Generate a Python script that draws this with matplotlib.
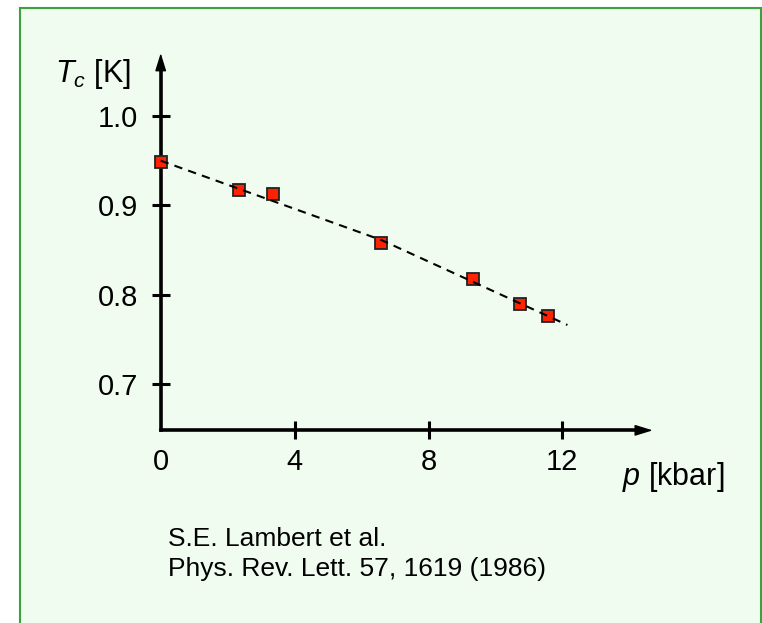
import matplotlib
matplotlib.use("Agg")
import matplotlib.pyplot as plt
from matplotlib.patches import Rectangle

plt.rcParams['font.family'] = ['Liberation Sans', 'DejaVu Sans']
plt.rcParams['mathtext.fontset'] = 'custom'
plt.rcParams['mathtext.rm'] = 'Liberation Sans'
plt.rcParams['mathtext.it'] = 'Liberation Sans:italic'

# Tc vs pressure, S.E. Lambert et al., PRL 57, 1619 (1986)
pressure = [0.0, 2.35, 3.36, 6.59, 9.33, 10.73, 11.56]
tc = [0.9485, 0.917, 0.913, 0.858, 0.818, 0.790, 0.776]

# dashed guide line through the points
fit_p = [0.0, 6.6, 12.15]
fit_tc = [0.950, 0.861, 0.766]

x_ticks = [0, 4, 8, 12]
x_tick_labels = ['0', '4', '8', '12']
y_ticks = [0.7, 0.8, 0.9, 1.0]
y_tick_labels = ['0.7', '0.8', '0.9', '1.0']

X_BASE = 0.648    # where the p axis crosses
X_END = 14.7      # arrow tip of p axis
Y_END = 1.0705    # arrow tip of Tc axis

fig = plt.figure(figsize=(7.62, 6.23), dpi=100)
fig.patch.set_facecolor('white')

# slide-like panel with green frame
W, H = 762.0, 623.0
fig.patches.append(Rectangle((19.5 / W, -0.05), (760.5 - 19.5) / W, (H - 7.5) / H + 0.05,
                             transform=fig.transFigure, facecolor='#F0FCF0',
                             edgecolor='#3DA13D', lw=1.5, zorder=-10))

ax = fig.add_axes([0.18894, 0.29776, 0.6809, 0.63065])
ax.set_zorder(5)
ax.set_xlim(-0.5, 15)
ax.set_ylim(0.64, 1.08)
ax.patch.set_visible(False)

for s in ['top', 'right']:
    ax.spines[s].set_visible(False)
ax.spines['left'].set_position(('data', 0))
ax.spines['bottom'].set_position(('data', X_BASE))
ax.spines['left'].set_bounds(X_BASE, Y_END - 0.01)
ax.spines['bottom'].set_bounds(0, X_END - 0.3)
for s in ['left', 'bottom']:
    ax.spines[s].set_linewidth(2.6)
    ax.spines[s].set_capstyle('projecting')

# arrow heads
head = dict(arrowstyle='-|>,head_length=0.55,head_width=0.17', mutation_scale=20,
            lw=1, color='black', shrinkA=0, shrinkB=0)
ax.annotate('', xy=(X_END, X_BASE), xytext=(X_END - 0.6, X_BASE), arrowprops=head)
ax.annotate('', xy=(0, Y_END), xytext=(0, Y_END - 0.02), arrowprops=head)

ax.set_xticks(x_ticks)
ax.set_xticklabels(x_tick_labels)
ax.set_yticks(y_ticks)
ax.set_yticklabels(y_tick_labels)
ax.tick_params(direction='inout', length=13.5, width=2.2, labelsize=21, color='black')
ax.tick_params(axis='x', pad=6)
ax.tick_params(axis='y', pad=9.5)
ax.xaxis.get_major_ticks()[0].tick1line.set_visible(False)

ax.plot(pressure, tc, 's', ms=8, mfc='#FF2200', mec='#222222', mew=1.3,
        zorder=3, clip_on=False)
ax.plot(fit_p, fit_tc, ls=(0, (4, 3)), color='black', lw=1.5, zorder=4, clip_on=False)

ax.text(-3.16, 1.038, r'$T_c$ [K]', fontsize=22, ha='left', va='baseline')
ax.text(13.78, 0.587, r'$p$ [kbar]', fontsize=22, ha='left', va='baseline')

fig.text(168 / W, 1 - 545.7 / H, 'S.E. Lambert et al.', fontsize=19, va='baseline')
fig.text(168 / W, 1 - 576 / H, 'Phys. Rev. Lett. 57, 1619 (1986)', fontsize=19, va='baseline')

fig.savefig('out.png', dpi=100)
